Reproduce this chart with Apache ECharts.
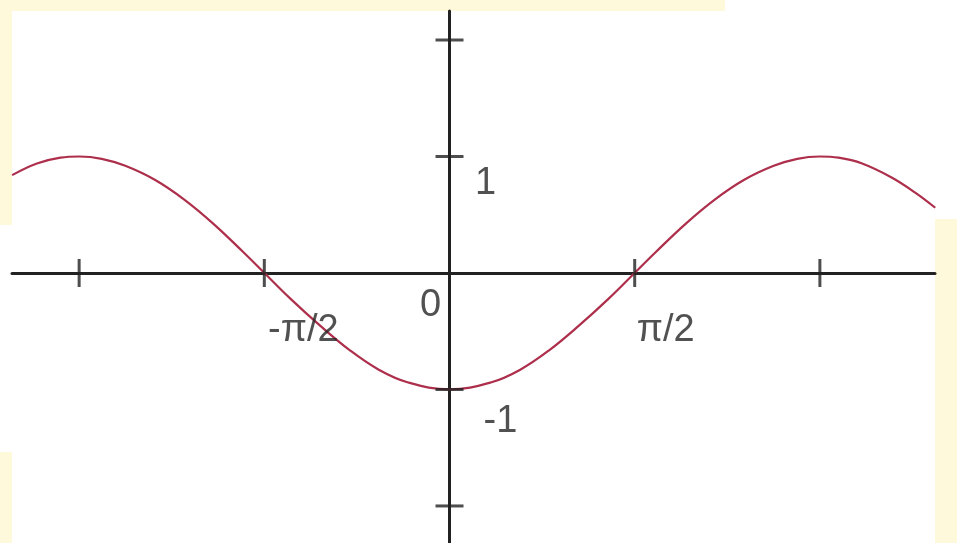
<!DOCTYPE html>
<html>
<head>
<meta charset="utf-8">
<script src="https://cdn.jsdelivr.net/npm/echarts@6/dist/echarts.min.js"></script>
<style>
    html, body { margin: 0; padding: 0; background: #fff9dc; }
    #chart { width: 957px; height: 543px; }
</style>
</head>
<body>
<div id="chart"></div>
<script>
    // curve points (x in radians)
    const curveX = [-3.71, -3.5, -3.3, -3.14, -2.95, -2.75, -2.5, -2.25, -2.0, -1.75, -1.57,
        -1.35, -1.1, -0.85, -0.6, -0.35, 0, 0.35, 0.6, 0.85, 1.1, 1.35, 1.57,
        1.75, 2.0, 2.25, 2.5, 2.75, 2.95, 3.14, 3.3, 3.5, 3.75, 3.95, 4.12];
    const curveY = [0.84, 0.94, 0.99, 1.00, 0.98, 0.92, 0.80, 0.63, 0.42, 0.18, 0,
        -0.22, -0.45, -0.66, -0.83, -0.94, -1, -0.94, -0.83, -0.66, -0.45, -0.22, 0,
        0.18, 0.42, 0.63, 0.80, 0.92, 0.98, 1.00, 0.99, 0.94, 0.82, 0.69, 0.56];

    // ticks and their labels
    const xTickValues = [-Math.PI, -Math.PI / 2, Math.PI / 2, Math.PI];
    const xTickLabels = ['', '-π/2', 'π/2', ''];
    const yTickValues = [2, 1, -1, -2];
    const yTickLabels = ['', '1', '-1', ''];
    const originLabel = '0';

    // pixel offsets of the labels from their tick
    const labelOffsets = {
        '-π/2': [39, 58],
        'π/2': [31, 58],
        '1': [36, 27],
        '-1': [51, 32],
        '0': [-19, 33]
    };

    let chart = echarts.init(document.getElementById('chart'));

    let curve = curveX.map((x, i) => [x, curveY[i]]);
    let ticksX = xTickValues.map(v => [v, 0]);
    let ticksY = yTickValues.map(v => [0, v]);

    let labels = [];
    xTickValues.forEach((v, i) => {
        if (xTickLabels[i]) labels.push({name: xTickLabels[i], value: [v, 0]});
    });
    yTickValues.forEach((v, i) => {
        if (yTickLabels[i]) labels.push({name: yTickLabels[i], value: [0, v]});
    });
    labels.push({name: originLabel, value: [0, 0]});
    labels.forEach(d => {
        d.label = {offset: labelOffsets[d.name]};
    });

    let axisColor = '#222';

    let option = {
        animation: false,
        backgroundColor: '#fff9dc',
        graphic: [
            {type: 'rect', z: -10, shape: {x: 12, y: 11, width: 945, height: 208}, style: {fill: '#fff'}},
            {type: 'rect', z: -10, shape: {x: 725, y: 0, width: 232, height: 11}, style: {fill: '#fff'}},
            {type: 'rect', z: -10, shape: {x: 12, y: 219, width: 923, height: 324}, style: {fill: '#fff'}},
            {type: 'rect', z: -10, shape: {x: 0, y: 225, width: 12, height: 227}, style: {fill: '#fff'}}
        ],
        grid: {left: 12, right: 22, top: 11, bottom: 0},
        xAxis: {
            type: 'value',
            min: -3.711,
            max: 4.118,
            axisLine: {onZero: true, lineStyle: {color: axisColor, width: 3}},
            axisTick: {show: false},
            axisLabel: {show: false},
            splitLine: {show: false}
        },
        yAxis: {
            type: 'value',
            min: -2.318,
            max: 2.249,
            axisLine: {onZero: true, lineStyle: {color: axisColor, width: 3}},
            axisTick: {show: false},
            axisLabel: {show: false},
            splitLine: {show: false}
        },
        series: [
            {
                name: 'curve',
                type: 'line',
                data: curve,
                smooth: 0.4,
                showSymbol: false,
                lineStyle: {color: '#ad2f4b', width: 2.2},
                z: 3
            },
            {
                name: 'xTicks',
                type: 'scatter',
                data: ticksX,
                symbol: 'rect',
                symbolSize: [3, 28],
                itemStyle: {color: axisColor},
                z: 4
            },
            {
                name: 'yTicks',
                type: 'scatter',
                data: ticksY,
                symbol: 'rect',
                symbolSize: [28, 3],
                itemStyle: {color: axisColor},
                z: 4
            },
            {
                name: 'labels',
                type: 'scatter',
                data: labels,
                symbolSize: 1,
                itemStyle: {color: 'rgba(0,0,0,0)'},
                label: {
                    show: true,
                    position: 'inside',
                    formatter: '{b}',
                    color: '#262626',
                    fontFamily: 'Liberation Sans',
                    fontSize: 38
                },
                z: 5
            }
        ]
    };

    chart.setOption(option);
</script>
</body>
</html>
